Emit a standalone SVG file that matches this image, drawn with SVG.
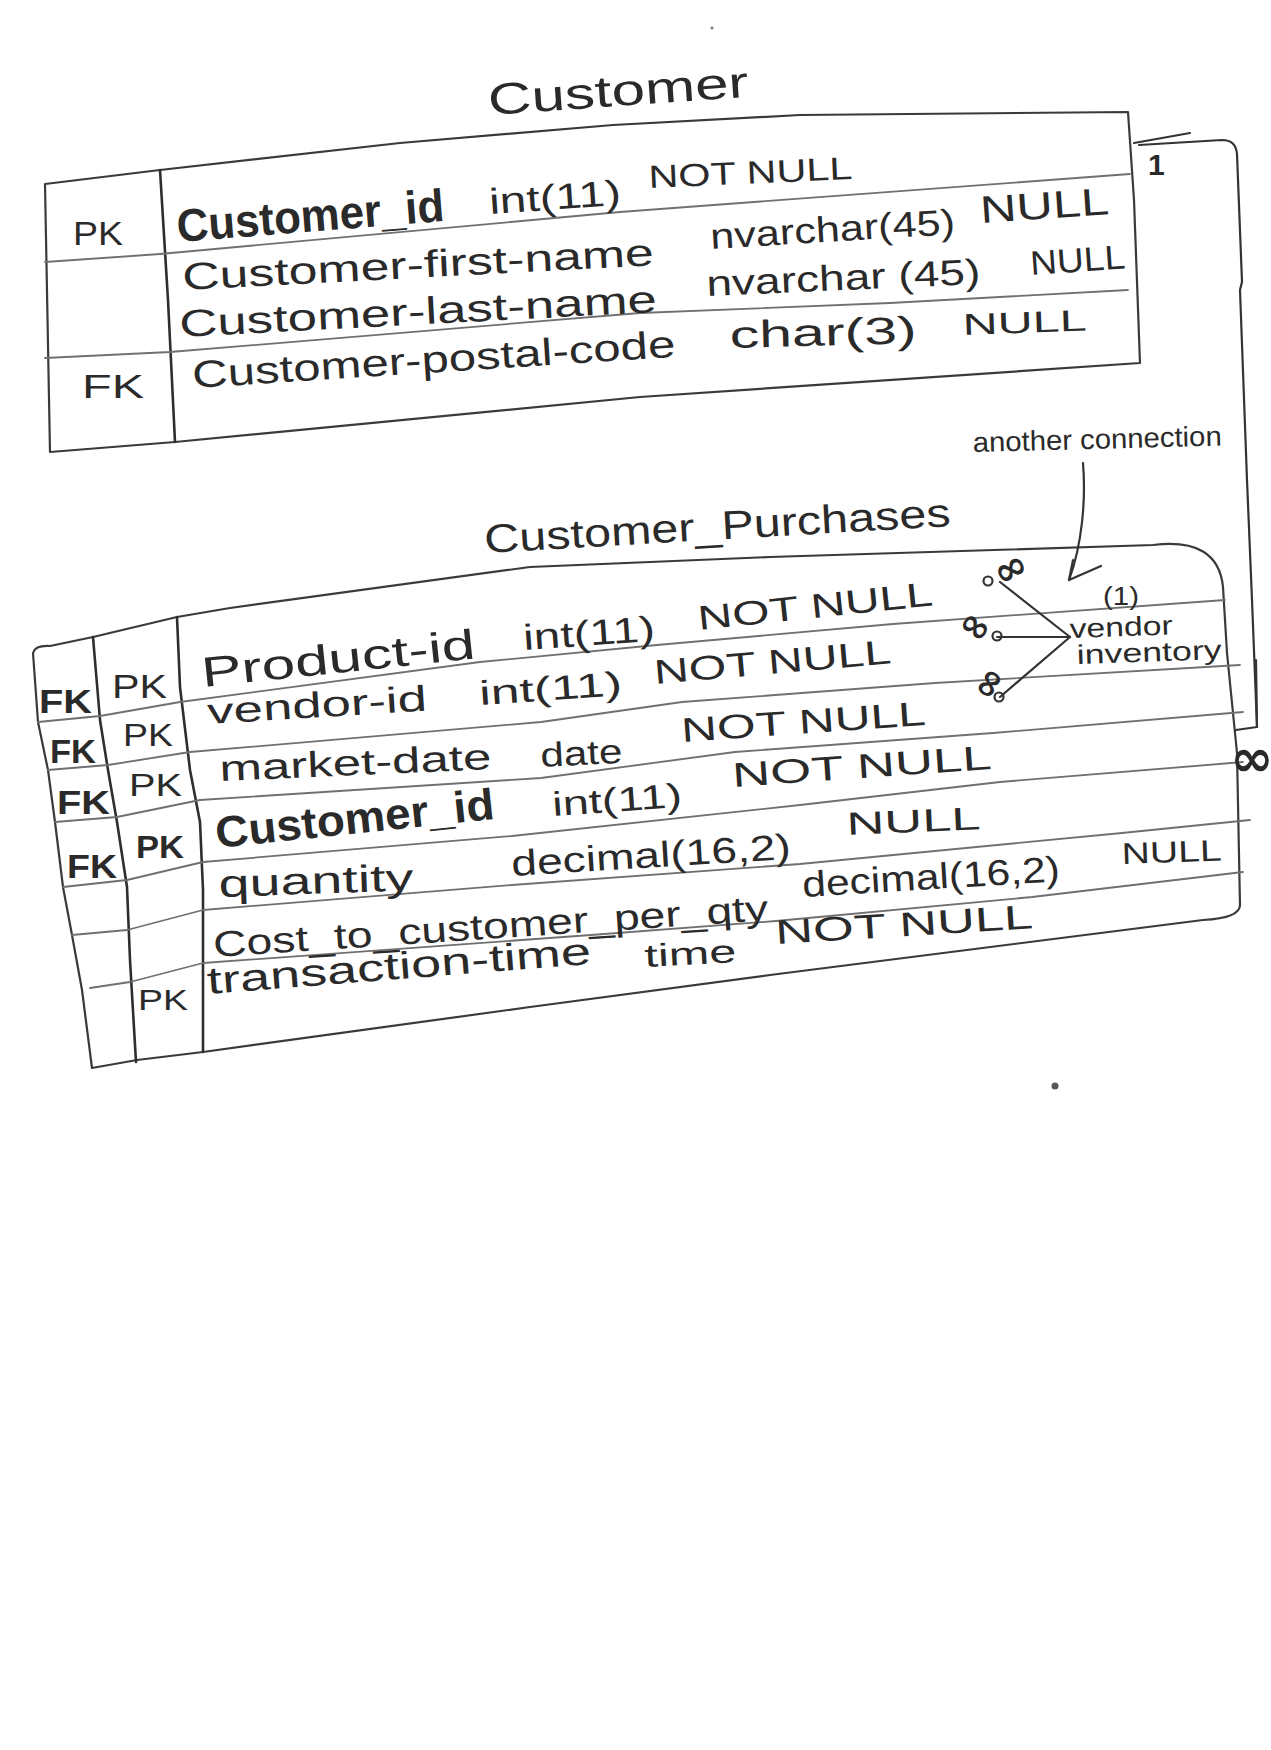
<svg xmlns="http://www.w3.org/2000/svg" width="1271" height="1750" viewBox="0 0 1271 1750">
  <style>
    .frame { fill: none; stroke: #3a3a3a; stroke-width: 2.2; stroke-linejoin: round; stroke-linecap: round; }
    .rule { fill: none; stroke: #707070; stroke-width: 1.8; stroke-linejoin: round; stroke-linecap: round; }
    .div { fill: none; stroke: #2e2e2e; stroke-width: 2.6; stroke-linejoin: round; stroke-linecap: round; }
    .wire { fill: none; stroke: #333333; stroke-width: 2.2; stroke-linejoin: round; stroke-linecap: round; }
    .hw { font-family: "Liberation Sans", Arial, sans-serif; fill: #2a2a2a; }
    .b { font-weight: bold; }
    .sym { font-family: "DejaVu Sans", sans-serif; font-weight: bold; fill: #2a2a2a; text-anchor: middle; dominant-baseline: central; }
    .ring { fill: none; stroke: #333333; stroke-width: 2.2; }
  </style>
  <rect width="1271" height="1750" fill="#ffffff"/>

  <!-- Customer table -->
  <g id="customer">
    <text class="hw" x="489" y="115" font-size="44" textLength="261" lengthAdjust="spacingAndGlyphs" transform="rotate(-4 489 115)">Customer</text>
    <path class="frame" d="M45,184 L160,170 L400,143 L613,125 L800,115 L1128,112 L1134,200 L1140,363 L640,397 L175,442 L50,452 Z"/>
    <path class="div" d="M160,170 L168,300 L175,442"/>
    <path class="rule" d="M45,262 L160,254 L620,212 L1130,174"/>
    <path class="rule" d="M45,358 L170,352 L640,313 L890,303 L1128,290"/>

    <text class="hw" x="73" y="245" font-size="34" textLength="50" lengthAdjust="spacingAndGlyphs">PK</text>
    <text class="hw" x="82" y="398" font-size="34" textLength="62" lengthAdjust="spacingAndGlyphs">FK</text>

    <text class="hw b" x="178" y="242" font-size="46" textLength="268" lengthAdjust="spacingAndGlyphs" transform="rotate(-4.5 178 242)">Customer_id</text>
    <text class="hw" x="490" y="214" font-size="36" textLength="132" lengthAdjust="spacingAndGlyphs" transform="rotate(-4 490 214)">int(11)</text>
    <text class="hw" x="649" y="188" font-size="32" textLength="204" lengthAdjust="spacingAndGlyphs" transform="rotate(-2.5 649 188)">NOT NULL</text>

    <text class="hw" x="183" y="290" font-size="38" textLength="472" lengthAdjust="spacingAndGlyphs" transform="rotate(-3 183 290)">Customer-first-name</text>
    <text class="hw" x="711" y="249" font-size="36" textLength="245" lengthAdjust="spacingAndGlyphs" transform="rotate(-3.5 711 249)">nvarchar(45)</text>
    <text class="hw" x="981" y="223" font-size="38" textLength="129" lengthAdjust="spacingAndGlyphs" transform="rotate(-4 981 223)">NULL</text>

    <text class="hw" x="180" y="337" font-size="38" textLength="478" lengthAdjust="spacingAndGlyphs" transform="rotate(-3 180 337)">Customer-last-name</text>
    <text class="hw" x="707" y="296" font-size="36" textLength="274" lengthAdjust="spacingAndGlyphs" transform="rotate(-2.5 707 296)">nvarchar (45)</text>
    <text class="hw" x="1031" y="275" font-size="34" textLength="95" lengthAdjust="spacingAndGlyphs" transform="rotate(-4 1031 275)">NULL</text>

    <text class="hw" x="193" y="388" font-size="38" textLength="484" lengthAdjust="spacingAndGlyphs" transform="rotate(-3.7 193 388)">Customer-postal-code</text>
    <text class="hw" x="730" y="348" font-size="38" textLength="187" lengthAdjust="spacingAndGlyphs" transform="rotate(-1.5 730 348)">char(3)</text>
    <text class="hw" x="963" y="335" font-size="30" textLength="124" lengthAdjust="spacingAndGlyphs" transform="rotate(-2 963 335)">NULL</text>
  </g>

  <!-- Customer_Purchases table -->
  <g id="customer-purchases">
    <text class="hw" x="485" y="553" font-size="40" textLength="467" lengthAdjust="spacingAndGlyphs" transform="rotate(-3.3 485 553)">Customer_Purchases</text>
    <path class="frame" d="M33,653 Q35,645 50,646 L93,637 L177,617 L230,608 L530,567 L770,557 L1153,545 Q1218,537 1223,587 L1227,653 L1237,753 L1240,905 Q1240,918 1203,920 L770,975 L530,1007 L203,1052 L137,1060 L92,1068 L82,990 L72,935 L63,887 L55,822 L48,770 L38,722 Z"/>
    <path class="div" d="M93,637 L100,720 L108,770 L117,822 L127,887 L130,960 L136,1062"/>
    <path class="div" d="M177,617 L180,687 L190,770 L200,822 L203,890 L203,1052"/>
    <path class="rule" d="M38,722 L100,716 L180,702 L480,662 L657,645 L893,624 L1225,600"/>
    <path class="rule" d="M48,770 L108,765 L190,752 L541,722 L682,702 L935,683 L1240,665"/>
    <path class="rule" d="M55,822 L117,817 L200,800 L541,778 L735,752 L993,733 L1243,712"/>
    <path class="rule" d="M63,887 L127,880 L203,862 L512,836 L800,805 L1000,782 L1243,762"/>
    <path class="rule" d="M72,935 L127,930 L203,910 L512,885 L800,864 L1122,833 L1250,820"/>
    <path class="rule" d="M90,988 L130,982 L203,963 L591,935 L776,921 L1032,897 L1243,872"/>

    <text class="hw b" x="39" y="713" font-size="34" textLength="53" lengthAdjust="spacingAndGlyphs">FK</text>
    <text class="hw" x="112" y="698" font-size="34" textLength="55" lengthAdjust="spacingAndGlyphs">PK</text>
    <text class="hw b" x="50" y="763" font-size="34" textLength="46" lengthAdjust="spacingAndGlyphs">FK</text>
    <text class="hw" x="123" y="746" font-size="32" textLength="50" lengthAdjust="spacingAndGlyphs">PK</text>
    <text class="hw b" x="57" y="814" font-size="34" textLength="53" lengthAdjust="spacingAndGlyphs">FK</text>
    <text class="hw" x="129" y="796" font-size="32" textLength="53" lengthAdjust="spacingAndGlyphs">PK</text>
    <text class="hw b" x="67" y="878" font-size="34" textLength="50" lengthAdjust="spacingAndGlyphs">FK</text>
    <text class="hw b" x="136" y="858" font-size="32" textLength="48" lengthAdjust="spacingAndGlyphs">PK</text>
    <text class="hw" x="138" y="1010" font-size="30" textLength="50" lengthAdjust="spacingAndGlyphs">PK</text>

    <text class="hw" x="203" y="687" font-size="42" textLength="275" lengthAdjust="spacingAndGlyphs" transform="rotate(-6 203 687)">Product-id</text>
    <text class="hw" x="524" y="650" font-size="36" textLength="132" lengthAdjust="spacingAndGlyphs" transform="rotate(-4 524 650)">int(11)</text>
    <text class="hw" x="699" y="630" font-size="34" textLength="236" lengthAdjust="spacingAndGlyphs" transform="rotate(-6 699 630)">NOT NULL</text>

    <text class="hw" x="208" y="724" font-size="36" textLength="220" lengthAdjust="spacingAndGlyphs" transform="rotate(-3.5 208 724)">vendor-id</text>
    <text class="hw" x="480" y="705" font-size="34" textLength="143" lengthAdjust="spacingAndGlyphs" transform="rotate(-4 480 705)">int(11)</text>
    <text class="hw" x="655" y="684" font-size="34" textLength="238" lengthAdjust="spacingAndGlyphs" transform="rotate(-5 655 684)">NOT NULL</text>

    <text class="hw" x="220" y="781" font-size="36" textLength="272" lengthAdjust="spacingAndGlyphs" transform="rotate(-2.5 220 781)">market-date</text>
    <text class="hw" x="541" y="767" font-size="34" textLength="82" lengthAdjust="spacingAndGlyphs" transform="rotate(-3 541 767)">date</text>
    <text class="hw" x="682" y="742" font-size="34" textLength="245" lengthAdjust="spacingAndGlyphs" transform="rotate(-4 682 742)">NOT NULL</text>

    <text class="hw b" x="217" y="848" font-size="44" textLength="280" lengthAdjust="spacingAndGlyphs" transform="rotate(-6 217 848)">Customer_id</text>
    <text class="hw" x="553" y="816" font-size="34" textLength="130" lengthAdjust="spacingAndGlyphs" transform="rotate(-4 553 816)">int(11)</text>
    <text class="hw" x="733" y="787" font-size="34" textLength="260" lengthAdjust="spacingAndGlyphs" transform="rotate(-4 733 787)">NOT NULL</text>

    <text class="hw" x="219" y="897" font-size="38" textLength="195" lengthAdjust="spacingAndGlyphs" transform="rotate(-2 219 897)">quantity</text>
    <text class="hw" x="512" y="876" font-size="36" textLength="280" lengthAdjust="spacingAndGlyphs" transform="rotate(-3.5 512 876)">decimal(16,2)</text>
    <text class="hw" x="847" y="835" font-size="32" textLength="134" lengthAdjust="spacingAndGlyphs" transform="rotate(-2.5 847 835)">NULL</text>

    <text class="hw" x="214" y="957" font-size="36" textLength="556" lengthAdjust="spacingAndGlyphs" transform="rotate(-3.8 214 957)">Cost_to_customer_per_qty</text>
    <text class="hw" x="803" y="897" font-size="36" textLength="258" lengthAdjust="spacingAndGlyphs" transform="rotate(-3.5 803 897)">decimal(16,2)</text>
    <text class="hw" x="1122" y="864" font-size="30" textLength="100" lengthAdjust="spacingAndGlyphs" transform="rotate(-2 1122 864)">NULL</text>

    <text class="hw" x="208" y="994" font-size="38" textLength="385" lengthAdjust="spacingAndGlyphs" transform="rotate(-4.5 208 994)">transaction-time</text>
    <text class="hw" x="645" y="967" font-size="32" textLength="92" lengthAdjust="spacingAndGlyphs" transform="rotate(-3 645 967)">time</text>
    <text class="hw" x="776" y="944" font-size="34" textLength="258" lengthAdjust="spacingAndGlyphs" transform="rotate(-3.5 776 944)">NOT NULL</text>
  </g>

  <!-- vendor inventory reference -->
  <g id="vendor-inventory">
    <text class="hw" x="1103" y="605" font-size="26" textLength="36" lengthAdjust="spacingAndGlyphs">(1)</text>
    <text class="hw" x="1070" y="638" font-size="27" textLength="103" lengthAdjust="spacingAndGlyphs" transform="rotate(-2 1070 638)">vendor</text>
    <text class="hw" x="1077" y="664" font-size="27" textLength="145" lengthAdjust="spacingAndGlyphs" transform="rotate(-2 1077 664)">inventory</text>
  </g>

  <!-- side note -->
  <g id="note">
    <text class="hw" x="973" y="452" font-size="28" textLength="249" lengthAdjust="spacingAndGlyphs" transform="rotate(-1.5 973 452)">another connection</text>
  </g>

  <!-- relationships -->
  <g id="connectors">
    <!-- Customer (1) to Customer_Purchases (many) -->
    <path class="wire" d="M1134,143 L1190,133"/>
    <path class="wire" d="M1139,145 L1222,140 Q1236,140 1237,154 L1242,282 L1240,290 L1247,480 L1252,600 L1257,727 L1236,730"/>
    <path class="wire" d="M1256,660 L1257,727" stroke-width="3.5"/>
    <text class="hw b" x="1148" y="175" font-size="30">1</text>
    <text class="sym" x="1252" y="758" font-size="52">∞</text>

    <!-- key fields to vendor inventory -->
    <path class="wire" d="M1000,582 L1070,637"/>
    <path class="wire" d="M997,637 L1070,637"/>
    <path class="wire" d="M1070,637 L1000,697"/>
    <text class="sym" x="1010" y="568" font-size="40" transform="rotate(-30 1010 568)">∞</text>
    <circle class="ring" cx="988" cy="581" r="4.5"/>
    <text class="sym" x="976" y="626" font-size="38" transform="rotate(35 976 626)">∞</text>
    <circle class="ring" cx="997" cy="636" r="4.5"/>
    <text class="sym" x="988" y="683" font-size="38" transform="rotate(-60 988 683)">∞</text>
    <circle class="ring" cx="999" cy="697" r="4.5"/>

    <!-- pointer from the note -->
    <path class="wire" d="M1083,463 C1086,500 1082,545 1069,580"/>
    <path class="wire" d="M1069,580 L1101,566 M1069,580 L1073,560"/>
  </g>

  <circle cx="1055" cy="1086" r="3.5" fill="#555"/>
  <circle cx="712" cy="28" r="1.5" fill="#777"/>
</svg>
